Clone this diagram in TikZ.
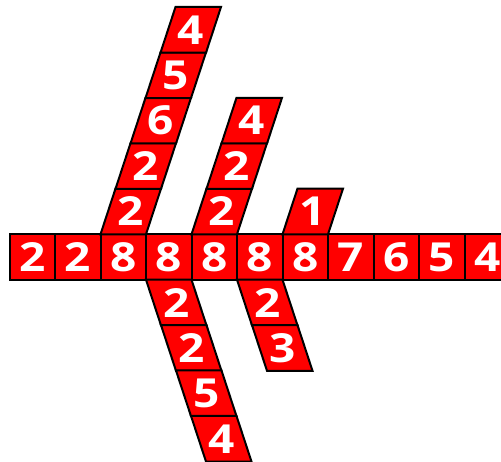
\documentclass[tikz,border=0pt]{standalone}
\usepackage{fontspec}
\newfontfamily\digitfont[FakeStretch=1.15]{Open Sans}
\tikzset{
  cellbox/.style={fill=red, draw=black, line width=2pt, line join=miter},
  digit/.style={text=white, font=\digitfont\fontsize{40}{40}\selectfont\bfseries, inner sep=0pt}
}
% name, left x of bottom edge, bottom y, top shift, text
\newcommand\cellpg[5]{%
  \path[cellbox] ({#2},{#3}) -- ++(45.5,0) -- ++({#4},45.7) -- ++(-45.5,0) -- cycle;
  \node[digit] (#1) at ({#2+22.75+(#4)/2},{#3+22.85}) {#5};
}
\begin{document}
\begin{tikzpicture}[x=1pt,y=1pt]
\useasboundingbox (0,0) rectangle (501,-462);
% horizontal row
\foreach \i/\d in {0/2,1/2,2/8,3/8,4/8,5/8,6/8,7/7,8/6,9/5,10/4}
  {\cellpg{r\i}{9.5+45.5*\i}{-280}{0}{\d}}
% upward column on cell 2
\foreach \k/\d in {0/2,1/2,2/6,3/5,4/4}
  {\cellpg{ua\k}{100.5+15*\k}{-234.3+45.4*\k}{15}{\d}}
% upward column on cell 4
\foreach \k/\d in {0/2,1/2,2/4}
  {\cellpg{ub\k}{191.5+15*\k}{-234.3+45.4*\k}{15}{\d}}
% upward column on cell 6
\foreach \k/\d in {0/1}
  {\cellpg{uc\k}{282.5+15*\k}{-234.3+45.4*\k}{15}{\d}}
% downward column under cell 3
\foreach \k/\d in {0/2,1/2,2/5,3/4}
  {\cellpg{da\k}{146+15*(\k+1)}{-280-45.4*(\k+1)}{-15}{\d}}
% downward column under cell 5
\foreach \k/\d in {0/2,1/3}
  {\cellpg{db\k}{237+15*(\k+1)}{-280-45.4*(\k+1)}{-15}{\d}}
\end{tikzpicture}
\end{document}
